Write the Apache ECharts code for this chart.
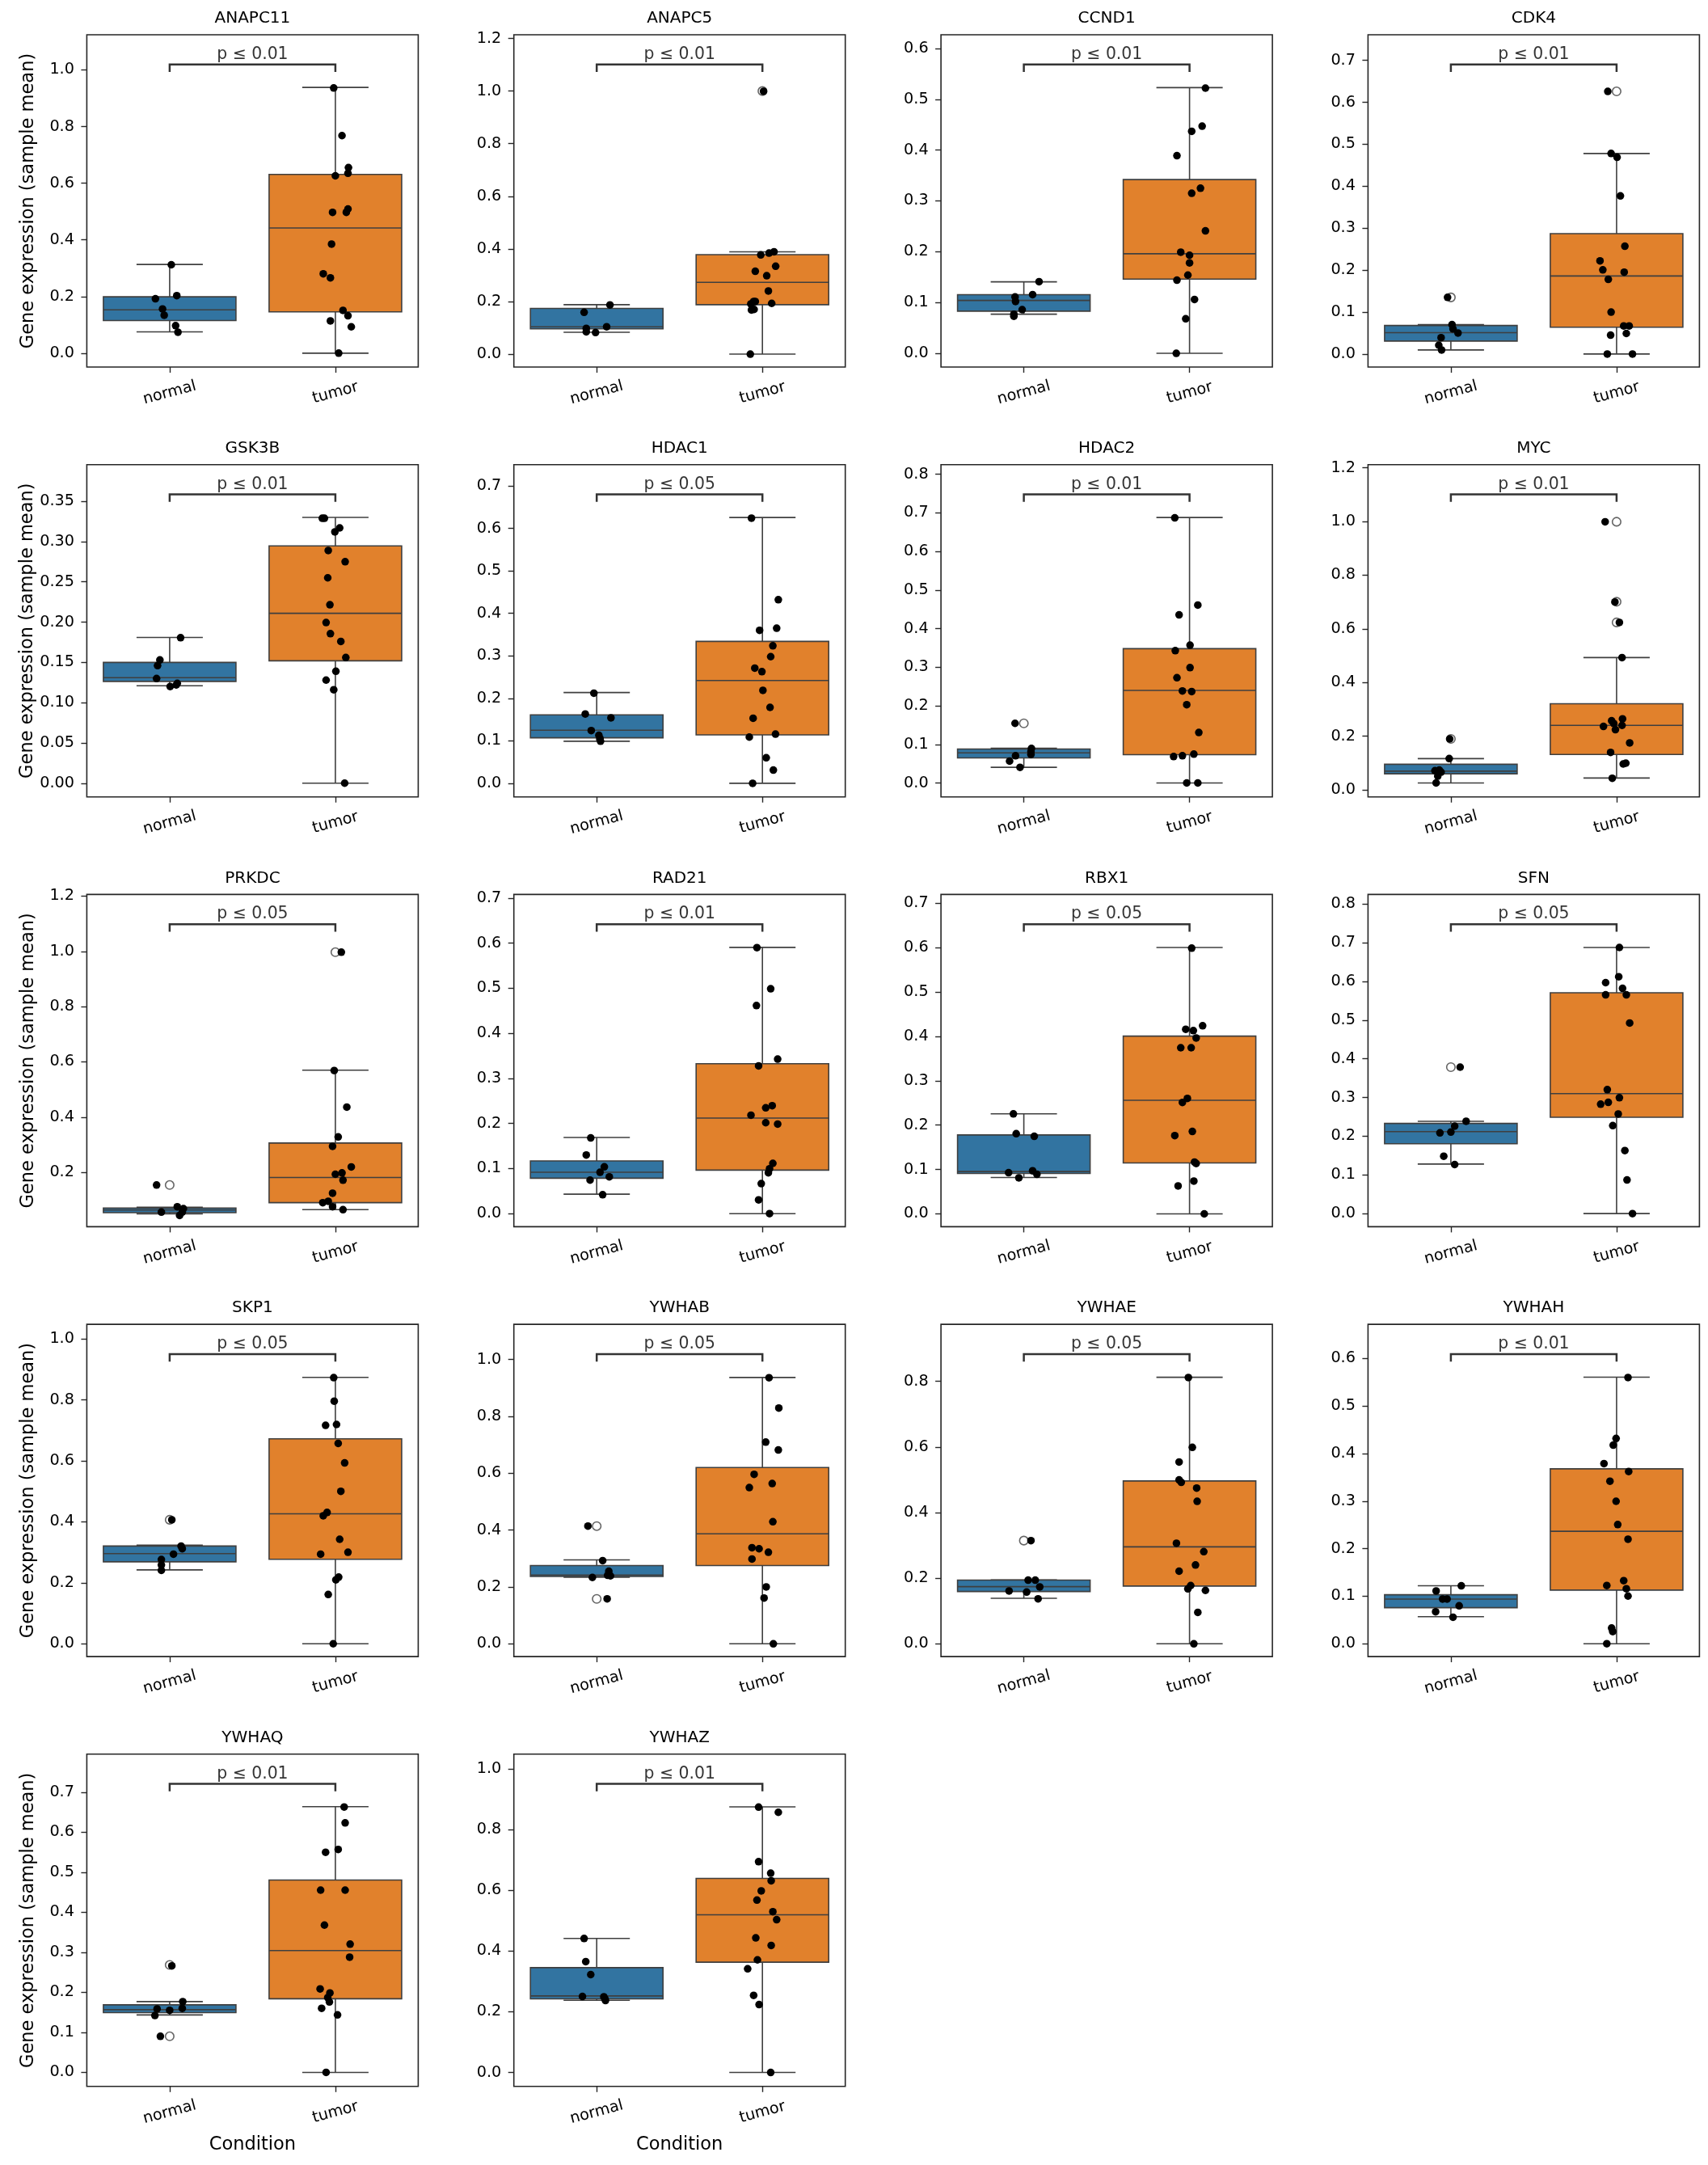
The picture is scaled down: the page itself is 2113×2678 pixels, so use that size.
<!DOCTYPE html>
<html>
<head>
<meta charset="utf-8">
<script src="https://cdn.jsdelivr.net/npm/echarts/dist/echarts.min.js"></script>
<style>
  html, body { margin: 0; padding: 0; background: #fff; }
  #chart { width: 2113px; height: 2678px; }
</style>
</head>
<body>
<div id="chart"></div>
<script>
// ---------------- DATA ----------------
const genes = ['ANAPC11','ANAPC5','CCND1','CDK4','GSK3B','HDAC1','HDAC2','MYC','PRKDC','RAD21','RBX1','SFN','SKP1','YWHAB','YWHAE','YWHAH','YWHAQ','YWHAZ'];
const conditions = ['normal', 'tumor'];
const pLabels = ['p ≤ 0.01','p ≤ 0.01','p ≤ 0.01','p ≤ 0.01','p ≤ 0.01','p ≤ 0.05','p ≤ 0.01','p ≤ 0.01','p ≤ 0.05','p ≤ 0.01','p ≤ 0.05','p ≤ 0.05','p ≤ 0.05','p ≤ 0.05','p ≤ 0.05','p ≤ 0.01','p ≤ 0.01','p ≤ 0.01'];

const yMin = [-0.049,-0.049,-0.027,-0.031,-0.017,-0.032,-0.036,-0.026,0.003,-0.029,-0.029,-0.034,-0.042,-0.045,-0.039,-0.027,-0.035,-0.046];
const yMax = [1.124,1.214,0.627,0.761,0.3956,0.750,0.825,1.212,1.206,0.708,0.720,0.825,1.048,1.124,0.974,0.672,0.795,1.049];

const yTicks = [
  ['0.0','0.2','0.4','0.6','0.8','1.0'],
  ['0.0','0.2','0.4','0.6','0.8','1.0','1.2'],
  ['0.0','0.1','0.2','0.3','0.4','0.5','0.6'],
  ['0.0','0.1','0.2','0.3','0.4','0.5','0.6','0.7'],
  ['0.00','0.05','0.10','0.15','0.20','0.25','0.30','0.35'],
  ['0.0','0.1','0.2','0.3','0.4','0.5','0.6','0.7'],
  ['0.0','0.1','0.2','0.3','0.4','0.5','0.6','0.7','0.8'],
  ['0.0','0.2','0.4','0.6','0.8','1.0','1.2'],
  ['0.2','0.4','0.6','0.8','1.0','1.2'],
  ['0.0','0.1','0.2','0.3','0.4','0.5','0.6','0.7'],
  ['0.0','0.1','0.2','0.3','0.4','0.5','0.6','0.7'],
  ['0.0','0.1','0.2','0.3','0.4','0.5','0.6','0.7','0.8'],
  ['0.0','0.2','0.4','0.6','0.8','1.0'],
  ['0.0','0.2','0.4','0.6','0.8','1.0'],
  ['0.0','0.2','0.4','0.6','0.8'],
  ['0.0','0.1','0.2','0.3','0.4','0.5','0.6'],
  ['0.0','0.1','0.2','0.3','0.4','0.5','0.6','0.7'],
  ['0.0','0.2','0.4','0.6','0.8','1.0']
];

// box stats: [lower whisker, Q1, median, Q3, upper whisker]
const normalBox = [
  [0.075,0.115,0.153,0.199,0.313],
  [0.083,0.096,0.104,0.174,0.188],
  [0.077,0.083,0.104,0.1155,0.1406],
  [0.0097,0.031,0.051,0.068,0.070],
  [0.121,0.1264,0.131,0.150,0.181],
  [0.099,0.107,0.125,0.161,0.2136],
  [0.0406,0.065,0.078,0.088,0.090],
  [0.026,0.060,0.070,0.0956,0.1167],
  [0.05,0.054,0.0637,0.0706,0.0735],
  [0.0432,0.0786,0.0918,0.117,0.169],
  [0.0819,0.091,0.0955,0.1778,0.2254],
  [0.128,0.1805,0.212,0.233,0.2386],
  [0.2425,0.269,0.2957,0.3206,0.3233],
  [0.2343,0.237,0.2419,0.2752,0.2952],
  [0.1387,0.1594,0.1742,0.194,0.1949],
  [0.057,0.0758,0.094,0.1031,0.1219],
  [0.1436,0.1494,0.1566,0.1688,0.1768],
  [0.2379,0.2426,0.2521,0.3454,0.4415]
];
const tumorBox = [
  [0,0.146,0.442,0.631,0.938],
  [0,0.188,0.273,0.378,0.389],
  [0,0.146,0.196,0.342,0.523],
  [0,0.064,0.186,0.287,0.478],
  [0,0.152,0.211,0.2947,0.330],
  [0,0.114,0.242,0.334,0.6256],
  [0,0.0734,0.2399,0.348,0.688],
  [0.0443,0.1318,0.2404,0.321,0.493],
  [0.0647,0.0902,0.1814,0.306,0.5696],
  [0,0.0966,0.2119,0.3325,0.5906],
  [0,0.1148,0.256,0.4007,0.6005],
  [0,0.2491,0.31,0.571,0.6879],
  [0,0.2771,0.4263,0.6723,0.8739],
  [0,0.2752,0.3867,0.62,0.937],
  [0,0.1759,0.2956,0.4963,0.8126],
  [0,0.1128,0.2365,0.368,0.5607],
  [0,0.184,0.3045,0.4805,0.6638],
  [0,0.3635,0.5195,0.6394,0.8754]
];

// box-plot fliers (hollow circles) per gene
const normalOutliers = [[],[],[],[0.135],[],[],[0.1545],[0.190],[0.154],[],[],[0.3786],[0.4067],[0.414,0.158],[0.3146],[],[0.2684,0.0902],[]];
const tumorOutliers  = [[],[1.0],[],[0.626],[],[],[],[0.999,0.701,0.624],[0.997],[],[],[],[],[],[],[],[],[]];

// strip points: [jitter offset (category units), value]
const normalPts = [
  [[0.01,0.312],[-0.086,0.192],[0.043,0.203],[-0.043,0.156],[-0.033,0.134],[0.036,0.097],[0.05,0.074]],
  [[0.08,0.187],[-0.076,0.159],[-0.063,0.098],[-0.063,0.085],[-0.007,0.082],[0.06,0.104]],
  [[0.092,0.141],[0.053,0.1155],[-0.053,0.111],[-0.05,0.102],[-0.01,0.086],[-0.06,0.077],[-0.06,0.073]],
  [[-0.02,0.135],[0.007,0.070],[0.013,0.060],[0.043,0.050],[-0.059,0.039],[-0.073,0.021],[-0.056,0.0097]],
  [[0.066,0.1807],[-0.059,0.153],[-0.073,0.146],[-0.079,0.130],[0.003,0.120],[0.046,0.124],[0.04,0.122]],
  [[-0.017,0.212],[-0.069,0.163],[0.086,0.154],[-0.033,0.124],[0.013,0.113],[0.023,0.099],[0.02,0.105]],
  [[-0.053,0.1545],[0.046,0.0895],[0.043,0.081],[0.043,0.074],[-0.05,0.0706],[-0.086,0.0566],[-0.023,0.0406]],
  [[-0.007,0.190],[-0.01,0.1167],[-0.096,0.0714],[-0.059,0.0664],[-0.079,0.0513],[-0.089,0.026],[-0.07,0.074]],
  [[-0.079,0.154],[0.046,0.0755],[0.083,0.0686],[0.076,0.0559],[-0.05,0.0559],[0.06,0.044]],
  [[-0.036,0.168],[-0.063,0.130],[0.046,0.1038],[0.02,0.0918],[0.076,0.0816],[-0.04,0.0744],[0.036,0.042]],
  [[-0.063,0.2254],[-0.046,0.1808],[0.063,0.1747],[0.053,0.0971],[-0.092,0.0928],[0.079,0.0892],[-0.03,0.0812]],
  [[0.056,0.3786],[0.092,0.2386],[0.023,0.226],[0,0.2106],[-0.066,0.2085],[-0.043,0.1484],[0.023,0.1267]],
  [[0.013,0.4067],[0.069,0.3206],[0.076,0.3117],[0.023,0.294],[-0.05,0.2762],[-0.05,0.2584],[-0.05,0.2407]],
  [[-0.053,0.414],[0.036,0.2924],[0.073,0.2552],[0.066,0.241],[0.083,0.239],[-0.026,0.2333],[0.063,0.158]],
  [[0.043,0.3146],[0.026,0.194],[0.069,0.194],[0.096,0.1734],[-0.089,0.161],[0.017,0.1577],[0.086,0.1371]],
  [[0.063,0.1219],[-0.089,0.1111],[-0.05,0.094],[-0.023,0.094],[0.05,0.0798],[-0.092,0.0672],[0.013,0.0558]],
  [[0.013,0.2662],[-0.056,0.0902],[0.079,0.1768],[0.076,0.1602],[-0.076,0.1587],[0,0.1551],[-0.089,0.1421]],
  [[-0.076,0.4415],[-0.066,0.3654],[-0.036,0.3225],[-0.086,0.2502],[0.043,0.2493],[0.053,0.2369],[0.05,0.242]]
];
const tumorPts = [
  [[-0.01,0.936],[0.04,0.768],[0,0.626],[0.076,0.635],[0.079,0.655],[-0.017,0.497],[0.066,0.497],[0.076,0.509],[-0.023,0.385],[-0.073,0.280],[-0.03,0.266],[0.046,0.151],[0.076,0.132],[-0.03,0.114],[0.096,0.093],[0.02,0.0]],
  [[0.007,0.999],[-0.01,0.377],[0.04,0.384],[0.07,0.389],[0.08,0.334],[-0.043,0.315],[0.026,0.298],[0.036,0.240],[-0.053,0.2],[-0.043,0.2],[-0.07,0.191],[0.056,0.193],[-0.05,0.17],[-0.066,0.168],[-0.073,0.0]],
  [[0.096,0.522],[0.076,0.447],[0.013,0.437],[-0.076,0.389],[0.066,0.325],[0.013,0.315],[0.096,0.241],[-0.053,0.199],[0,0.193],[0,0.178],[-0.01,0.154],[-0.076,0.144],[0.03,0.106],[-0.023,0.068],[-0.08,0.0]],
  [[-0.053,0.626],[-0.033,0.478],[0.003,0.469],[0.023,0.377],[0.05,0.257],[-0.1,0.222],[-0.083,0.2005],[0.046,0.195],[-0.05,0.178],[-0.033,0.1],[0.043,0.067],[0.076,0.067],[-0.036,0.045],[0.059,0.049],[-0.056,0.0],[0.096,0.0]],
  [[-0.079,0.329],[-0.066,0.329],[0.026,0.317],[-0.003,0.312],[-0.043,0.289],[0.059,0.275],[-0.046,0.255],[-0.033,0.2216],[-0.056,0.1995],[-0.03,0.1857],[0.033,0.176],[0.063,0.156],[0.003,0.139],[-0.056,0.128],[-0.01,0.116],[0.056,0.0]],
  [[-0.066,0.624],[0.096,0.432],[-0.017,0.360],[0.086,0.365],[0.063,0.3236],[0.05,0.298],[-0.046,0.271],[-0.003,0.2626],[0.003,0.2187],[0.046,0.1786],[-0.056,0.153],[-0.079,0.1087],[0.079,0.1157],[0.023,0.060],[0.066,0.031],[-0.059,0.0]],
  [[-0.089,0.687],[0.05,0.461],[-0.063,0.4357],[0.003,0.357],[-0.086,0.343],[0.003,0.299],[-0.076,0.2727],[-0.043,0.2385],[0.013,0.237],[-0.017,0.2028],[0.056,0.1308],[-0.096,0.0685],[-0.043,0.0706],[0.026,0.0748],[-0.017,0.0],[0.05,0.0]],
  [[-0.069,0.999],[-0.01,0.700],[0.017,0.624],[0.033,0.493],[0.036,0.2646],[-0.03,0.2575],[-0.017,0.2475],[-0.079,0.2364],[0.033,0.2404],[-0.007,0.2243],[0.079,0.175],[-0.036,0.1398],[0.04,0.0966],[0.056,0.0996],[-0.026,0.0433]],
  [[0.036,0.997],[-0.007,0.5686],[0.069,0.436],[0.017,0.328],[-0.017,0.294],[0.096,0.2196],[0.04,0.198],[0,0.193],[0.046,0.1716],[-0.017,0.1245],[-0.043,0.095],[-0.076,0.09],[-0.017,0.0755],[0.046,0.0647]],
  [[-0.033,0.590],[0.05,0.4988],[-0.036,0.4616],[0.092,0.3427],[-0.023,0.3277],[0.059,0.2395],[0.02,0.2347],[-0.069,0.2185],[0.02,0.2017],[0.092,0.1987],[0.063,0.1116],[0.043,0.0996],[0.036,0.0906],[-0.007,0.0666],[-0.023,0.0306],[0.043,0.0]],
  [[0.013,0.599],[0.079,0.424],[-0.023,0.416],[0.023,0.413],[0.04,0.3965],[-0.053,0.3745],[0.01,0.3745],[-0.013,0.2602],[-0.043,0.2511],[0.017,0.1857],[-0.089,0.1765],[0.03,0.1167],[0.04,0.1136],[0.026,0.0739],[-0.069,0.0629],[0.089,0.0]],
  [[0.017,0.6879],[0.013,0.6123],[-0.066,0.597],[0.036,0.5822],[-0.066,0.5654],[0.059,0.5654],[0.079,0.4927],[-0.056,0.3205],[0.017,0.2995],[-0.05,0.2876],[-0.096,0.2827],[0.01,0.2575],[-0.023,0.2274],[0.05,0.163],[0.063,0.0868],[0.096,0.0]],
  [[-0.01,0.873],[-0.007,0.7957],[-0.059,0.7167],[0.007,0.7194],[0.017,0.6572],[0.056,0.5932],[0.033,0.5],[-0.05,0.4307],[-0.073,0.42],[0.026,0.3428],[-0.089,0.294],[0.076,0.3002],[0.02,0.2185],[0.003,0.2096],[-0.043,0.1616],[-0.013,0.0]],
  [[0.04,0.936],[0.099,0.8295],[0.02,0.7095],[0.096,0.6819],[-0.05,0.5962],[-0.079,0.5495],[0.059,0.5638],[0.063,0.4295],[-0.063,0.3381],[-0.02,0.3343],[0.036,0.3219],[-0.063,0.2981],[0.023,0.2],[0.01,0.161],[0.066,0.0]],
  [[-0.007,0.8117],[0.017,0.5987],[-0.063,0.5541],[-0.063,0.4996],[-0.05,0.4922],[0.043,0.4748],[0.046,0.4344],[-0.079,0.3064],[0.086,0.2808],[0.036,0.2403],[-0.063,0.2213],[0.007,0.1775],[-0.01,0.1676],[0.096,0.1627],[0.05,0.0958],[0.026,0.0]],
  [[0.069,0.5601],[-0.003,0.4319],[-0.02,0.4177],[-0.076,0.3789],[0.073,0.3624],[-0.04,0.3419],[-0.003,0.2997],[0.007,0.2507],[0.069,0.2199],[0.043,0.1328],[-0.059,0.1225],[0.059,0.1157],[0.069,0.1003],[-0.03,0.033],[-0.023,0.0256],[-0.059,0.0]],
  [[0.053,0.663],[0.059,0.6234],[-0.059,0.5498],[0.017,0.557],[-0.089,0.4553],[0.059,0.4553],[-0.066,0.368],[0.089,0.3203],[0.086,0.2879],[-0.092,0.2085],[-0.033,0.1984],[-0.046,0.1869],[-0.036,0.176],[-0.083,0.1602],[0.013,0.1436],[-0.056,0.0]],
  [[-0.023,0.8744],[0.096,0.8573],[-0.023,0.6946],[0.05,0.6565],[0.053,0.6318],[-0.007,0.5984],[-0.033,0.568],[0.063,0.5299],[0.086,0.5033],[-0.04,0.4434],[0.053,0.4186],[-0.03,0.3711],[-0.089,0.3416],[-0.053,0.254],[-0.02,0.2236],[0.05,0.0]]
];

// ---------------- LAYOUT / STYLE ----------------
const FONT = 'DejaVu Sans';
const boxColors = ['#3274a1', '#e1812c'];
const edge = '#3f3f3f';
const colLeft = [107.4, 635.7, 1164.1, 1692.4];
const rowTop = [43, 574.7, 1106.4, 1638.1, 2169.8];
const gW = 410, gH = 411;
const NCOL = 4;

const chart = echarts.init(document.getElementById('chart'), null, { renderer: 'canvas', width: 2113, height: 2678 });

const grids = [], xAxes = [], yAxes = [], series = [], titles = [];

function boxRender(params, api) {
  const c = api.value(0);
  const lo = api.value(1), q1 = api.value(2), med = api.value(3), q3 = api.value(4), hi = api.value(5);
  const tl = api.coord([c - 0.4, q3]);
  const br = api.coord([c + 0.4, q1]);
  const pMedL = api.coord([c - 0.4, med]);
  const pMedR = api.coord([c + 0.4, med]);
  const pc = api.coord([c, 0]);
  const yLo = api.coord([c, lo])[1], yHi = api.coord([c, hi])[1];
  const capL = api.coord([c - 0.2, lo])[0], capR = api.coord([c + 0.2, lo])[0];
  const ls = { stroke: edge, lineWidth: 1.6 };
  return {
    type: 'group',
    children: [
      { type: 'line', shape: { x1: pc[0], y1: tl[1], x2: pc[0], y2: yHi }, style: ls },
      { type: 'line', shape: { x1: pc[0], y1: br[1], x2: pc[0], y2: yLo }, style: ls },
      { type: 'line', shape: { x1: capL, y1: yHi, x2: capR, y2: yHi }, style: ls },
      { type: 'line', shape: { x1: capL, y1: yLo, x2: capR, y2: yLo }, style: ls },
      { type: 'rect', shape: { x: tl[0], y: tl[1], width: br[0] - tl[0], height: br[1] - tl[1] },
        style: { fill: boxColors[c], stroke: edge, lineWidth: 1.6 } },
      { type: 'line', shape: { x1: pMedL[0], y1: pMedL[1], x2: pMedR[0], y2: pMedR[1] }, style: ls }
    ]
  };
}

genes.forEach((g, i) => {
  const r = Math.floor(i / NCOL), c = i % NCOL;
  const left = colLeft[c], top = rowTop[r];
  grids.push({ left: left, top: top, width: gW, height: gH, show: true, borderColor: '#262626', borderWidth: 1.6,
               backgroundColor: 'rgba(0,0,0,0)', containLabel: false, outerBoundsMode: 'none' });
  titles.push({ text: g, left: left + gW / 2, top: top - 30, textAlign: 'center', padding: 0,
                textStyle: { fontFamily: FONT, fontSize: 20, fontWeight: 'normal', color: '#000' } });
  const isBottom = (i >= 16);
  // visible category axis
  xAxes.push({
    type: 'category', gridIndex: i, data: conditions, boundaryGap: true, position: 'bottom',
    axisLine: { show: false, onZero: false }, splitLine: { show: false },
    axisTick: { show: true, alignWithLabel: true, length: 7, lineStyle: { color: '#262626', width: 1.4 } },
    axisLabel: { rotate: 15, align: 'center', verticalAlign: 'middle', margin: 32, fontFamily: FONT, fontSize: 19.2, color: '#000' },
    name: isBottom ? 'Condition' : '', nameLocation: 'middle', nameGap: 61,
    nameTextStyle: { fontFamily: FONT, fontSize: 22.5, color: '#000', verticalAlign: 'top' }
  });
  // hidden value axis for data
  xAxes.push({ type: 'value', gridIndex: i, min: -0.5, max: 1.5, show: false, axisLine: { onZero: false } });
  const tickVals = yTicks[i].map(Number);
  const tickStr = yTicks[i];
  yAxes.push({
    type: 'value', gridIndex: i, min: yMin[i], max: yMax[i], position: 'left',
    axisLine: { show: false, onZero: false }, splitLine: { show: false },
    axisTick: { show: true, length: 7, customValues: tickVals, lineStyle: { color: '#262626', width: 1.4 } },
    axisLabel: { customValues: tickVals, margin: 15.5, fontFamily: FONT, fontSize: 19.2, color: '#000',
                 formatter: (v) => { const k = tickVals.findIndex(t => Math.abs(t - v) < 1e-9); return k >= 0 ? tickStr[k] : ''; } },
    name: c === 0 ? 'Gene expression (sample mean)' : '', nameLocation: 'middle', nameGap: 61, nameRotate: 90,
    nameTextStyle: { fontFamily: FONT, fontSize: 22.5, color: '#000' }
  });
  const xi = 2 * i + 1;
  // boxes
  series.push({
    type: 'custom', xAxisIndex: xi, yAxisIndex: i, renderItem: boxRender, z: 2, silent: true,
    data: [[0].concat(normalBox[i]), [1].concat(tumorBox[i])]
  });
  // fliers
  const fl = normalOutliers[i].map(v => [0, v]).concat(tumorOutliers[i].map(v => [1, v]));
  series.push({
    type: 'scatter', xAxisIndex: xi, yAxisIndex: i, z: 3, silent: true, symbol: 'circle', symbolSize: 10.5,
    itemStyle: { color: 'rgba(0,0,0,0)', borderColor: edge, borderWidth: 1.6 }, data: fl
  });
  // strip points
  const pts = normalPts[i].map(p => [0 + p[0], p[1]]).concat(tumorPts[i].map(p => [1 + p[0], p[1]]));
  series.push({
    type: 'scatter', xAxisIndex: xi, yAxisIndex: i, z: 4, silent: true, symbol: 'circle', symbolSize: 9.5,
    itemStyle: { color: '#000', opacity: 1 }, data: pts
  });
  // significance bracket (placed relative to the axis range)
  const span = yMax[i] - yMin[i];
  const yt = yMax[i] - 0.0895 * span, yb = yMax[i] - 0.109 * span;
  series.push({
    type: 'line', xAxisIndex: xi, yAxisIndex: i, z: 5, silent: true, symbol: 'none',
    lineStyle: { color: '#333333', width: 2.5, cap: 'square', join: 'miter' },
    data: [[0, yb], [0, yt], [1, yt], [1, yb]]
  });
  series.push({
    type: 'scatter', xAxisIndex: xi, yAxisIndex: i, z: 5, silent: true, symbolSize: 0,
    label: { show: true, position: 'top', distance: 2, formatter: pLabels[i], fontFamily: FONT, fontSize: 20.4, color: '#000' },
    data: [[0.5, yt]]
  });
});

chart.setOption({
  animation: false,
  backgroundColor: '#ffffff',
  textStyle: { fontFamily: FONT },
  title: titles,
  grid: grids,
  xAxis: xAxes,
  yAxis: yAxes,
  series: series
});
</script>
</body>
</html>
